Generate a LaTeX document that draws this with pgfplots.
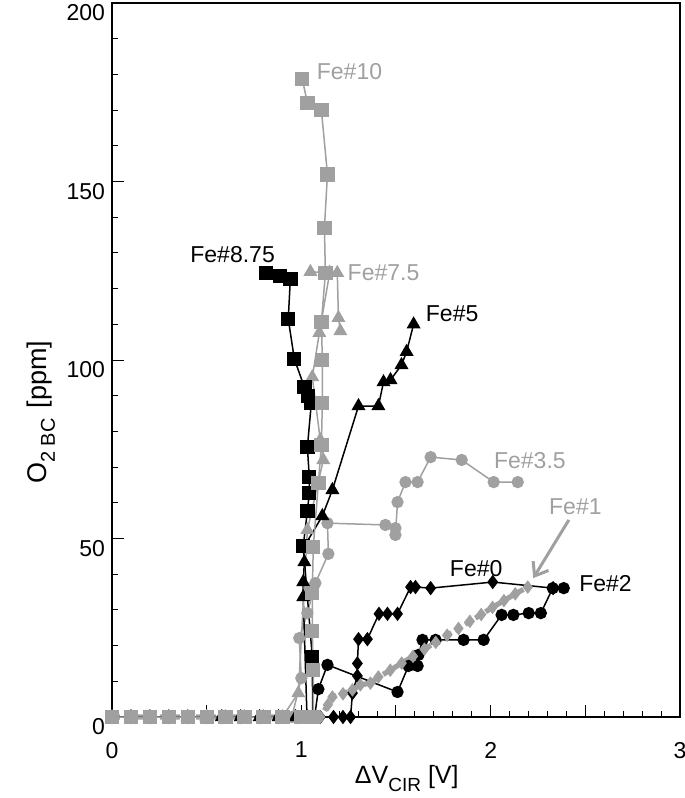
\documentclass[border=0pt]{standalone}
\usepackage{fontspec}
\setmainfont{Liberation Sans}
\usepackage{pgfplots}
\pgfplotsset{compat=1.18}
\usetikzlibrary{arrows.meta}
\definecolor{fegray}{RGB}{160,160,160}

\begin{document}
\begin{tikzpicture}
\useasboundingbox (-56pt,-40.5pt) rectangle (286.5pt,358.5pt);
\begin{axis}[
    scale only axis,
    width=284pt, height=357pt,
    at={(0,0)}, anchor=south west,
    xmin=0, xmax=3, ymin=0, ymax=200,
    xtick={0,0.5,...,3}, xticklabels={0,,1,,2,,3},
    ytick={0,50,...,200},
    minor x tick num=4, minor y tick num=4,
    tick pos=left, tick align=inside,
    major tick length=6pt, minor tick length=3pt,
    axis line style={line width=0.9pt},
    tick style={line width=0.5pt, black},
    clip=false,
    ticklabel style={font=\fontsize{11.5}{13}\selectfont},
    /pgf/number format/assume math mode=true,
    yticklabel style={yshift=-5pt},
    xticklabel style={yshift=-9pt},
    every axis plot/.append style={line width=0.75pt},
]
% Fe#0
\addplot[black, mark=diamond*, mark size=3pt] coordinates {
(0,0)(0.1,0)(0.2,0)(0.3,0)(0.4,0)(0.5,0)(0.58,0)(0.68,0)(0.78,0)(0.88,0)(0.98,0)(1.1,0)(1.17,0)(1.22,0)(1.26,0)
(1.27,6.7)(1.296,11.5)(1.296,15)(1.302,21.8)(1.349,21.8)(1.41,28.9)(1.455,28.9)(1.508,28.9)
(1.577,36.4)(1.603,36.4)(1.683,36.1)(2.011,37.8)(2.33,36.1)};
% Fe#2
\addplot[black, mark=*, mark size=2.7pt] coordinates {
(0,0)(0.1,0)(0.2,0)(0.3,0)(0.4,0)(0.5,0)(0.6,0)(0.7,0)(0.8,0)(0.9,0)(1.0,0)(1.07,0)
(1.09,7.8)(1.138,14.6)(1.508,7)(1.566,14.3)(1.614,14.3)(1.619,17.4)(1.64,21.6)(1.709,21.6)
(1.857,21.6)(1.963,21.6)(2.058,28.6)(2.12,28.6)(2.201,29.1)(2.265,29.1)(2.328,36.1)(2.386,36.1)};
% Fe#1
\addplot[fegray, line width=2.6pt, dash pattern=on 4pt off 2pt, mark=diamond*, mark size=3pt,
  mark options={solid, line width=0.5pt}] coordinates {
(0,0)(0.1,0)(0.2,0)(0.3,0)(0.4,0)(0.5,0)(0.6,0)(0.7,0)(0.8,0)(0.9,0)(1.0,0)(1.1,0)
(1.14,3.4)(1.164,5.6)(1.22,6.5)(1.27,7.6)(1.312,9)(1.365,9.5)(1.407,11.2)(1.47,13.1)
(1.53,15.1)(1.59,17.0)(1.65,19.0)(1.71,20.9)(1.77,22.9)(1.83,24.8)(1.89,26.8)(1.95,28.7)
(2.01,30.7)(2.07,32.6)(2.13,34.5)(2.196,36.4)};
% Fe#3.5
\addplot[fegray, mark=*, mark size=2.7pt] coordinates {
(0,0)(0.1,0)(0.2,0)(0.3,0)(0.4,0)(0.5,0)(0.6,0)(0.7,0)(0.8,0)(0.9,0)(0.95,0)
(1.0,10.9)(0.989,22.1)(1.032,29.1)(1.074,37.5)(1.143,45.7)(1.138,54.3)(1.444,53.8)
(1.497,52.9)(1.497,51)(1.508,60.2)(1.55,65.8)(1.614,65.8)(1.683,72.8)(1.847,72)
(2.016,65.8)(2.143,65.8)};
% Fe#5
\addplot[black, mark=triangle*, mark size=3.3pt] coordinates {
(0,0)(0.1,0)(0.2,0)(0.3,0)(0.4,0)(0.5,0)(0.58,0)(0.68,0)(0.78,0)(0.88,0)(0.97,0)(1.03,0)
(1.01,33.6)(1.01,37.8)(1.016,43.4)(1.01,47.3)(1.111,56.3)(1.164,63.6)(1.302,87.1)(1.407,87.1)
(1.434,93.8)(1.471,94.4)(1.529,98.6)(1.556,102.3)(1.593,110)};
% Fe#7.5
\addplot[fegray, mark=triangle*, mark size=3.3pt] coordinates {
(0,0)(0.1,0)(0.2,0)(0.3,0)(0.4,0)(0.5,0)(0.6,0)(0.7,0)(0.8,0)(0.9,0)
(0.984,6.7)(1.032,52.4)(1.116,72)(1.1,77.6)(1.058,95.2)(1.095,107.6)(1.15,124.5)
(1.048,124.7)(1.19,124.4)(1.196,111.8)(1.206,108.1)};
% Fe#8.75
\addplot[black, mark=square*, mark size=3.2pt] coordinates {
(0,0)(0.1,0)(0.2,0)(0.3,0)(0.4,0)(0.5,0)(0.6,0)(0.7,0)(0.8,0)(0.9,0)(1.0,0)(1.06,0)
(1.058,16.8)(1.01,47.9)(1.032,57.7)(1.042,62.7)(1.042,67.2)(1.032,75.6)(1.053,88)(1.037,90)
(1.016,92.4)(0.963,100.3)(0.931,111.5)(0.942,122.7)(0.889,123.5)(0.815,124.4)};
% Fe#10
\addplot[fegray, mark=square*, mark size=3.2pt] coordinates {
(0,0)(0.1,0)(0.2,0)(0.3,0)(0.4,0)(0.5,0)(0.6,0)(0.7,0)(0.8,0)(0.9,0)(1.0,0)(1.063,0)
(1.063,13.2)(1.058,24.1)(1.058,34.7)(1.063,47.6)(1.09,65.5)(1.106,76.2)(1.111,88)(1.111,100)
(1.106,110.6)(1.127,124.3)(1.122,137)(1.138,152)(1.106,170)(1.032,172)(1.005,178.7)};

\begin{scope}[every node/.style={font=\fontsize{11.5}{13}\selectfont, inner sep=0pt}]
\node[fegray, anchor=west] at (axis cs:1.08,180.7) {Fe\#10};
\node[black, anchor=east] at (axis cs:0.862,129.4) {Fe\#8.75};
\node[fegray, anchor=west] at (axis cs:1.243,124.4) {Fe\#7.5};
\node[black, anchor=west] at (axis cs:1.656,112.9) {Fe\#5};
\node[fegray, anchor=west] at (axis cs:2.016,71.7) {Fe\#3.5};
\node[fegray, anchor=west] at (axis cs:2.307,58.8) {Fe\#1};
\node[black, anchor=west] at (axis cs:1.783,41.7) {Fe\#0};
\node[black, anchor=west] at (axis cs:2.466,37.5) {Fe\#2};
\end{scope}
\draw[fegray, line width=1.5pt, -{Straight Barb[length=6pt,width=9pt]}]
  (axis cs:2.413,55.2) -- (axis cs:2.225,38.9);

\node[font=\fontsize{12.5}{14}\selectfont] at (rel axis cs:0.519,-0.086)
  {ΔV\raisebox{-0.6ex}{\fontsize{9.5}{10}\selectfont CIR} [V]};
\node[rotate=90, font=\fontsize{13.5}{15}\selectfont] at (rel axis cs:-0.125,0.427)
  {O\raisebox{-0.6ex}{\fontsize{10}{11}\selectfont 2 BC}\hspace{0.1em} [ppm]};
\end{axis}
\end{tikzpicture}
\end{document}
